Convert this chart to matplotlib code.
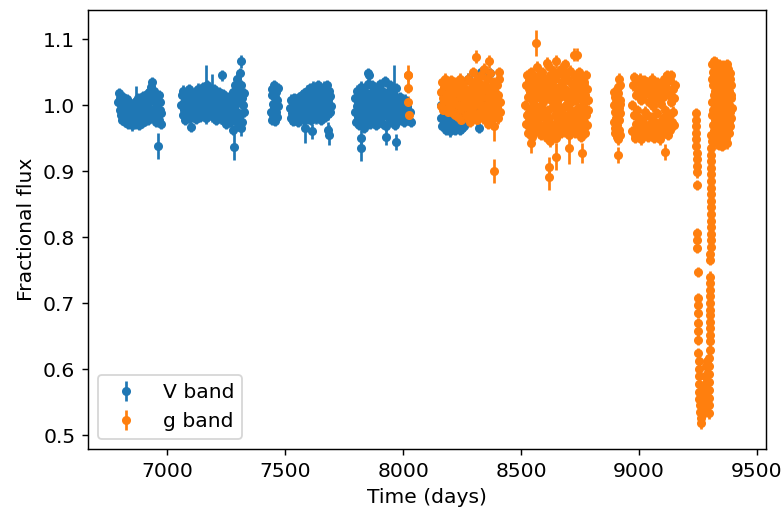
import matplotlib
matplotlib.use("Agg")
import matplotlib.pyplot as plt
import numpy as np

plt.rcParams["font.size"] = 11.2

# Typical photometric uncertainty per band (fractional flux)
V_ERR = 0.008
G_ERR = 0.008

# ---- V band: (time [days], fractional flux) per observing season ----
V_S1 = [
    (6793, 1.005), (6795, 1.018), (6798, 0.992), (6801, 1.010), (6803, 0.985), (6806, 1.002),
    (6809, 0.978), (6811, 1.012), (6814, 0.995), (6817, 0.982), (6820, 1.006), (6822, 0.975),
    (6825, 0.998), (6828, 0.988), (6830, 1.009), (6833, 0.972), (6836, 0.993), (6839, 0.981),
    (6841, 1.003), (6844, 0.977), (6847, 0.996), (6849, 0.969), (6852, 0.987), (6855, 1.001),
    (6858, 0.979), (6860, 0.994), (6863, 0.971), (6866, 1.006), (6868, 0.985), (6871, 0.998),
    (6874, 0.975), (6877, 1.010), (6879, 0.989), (6882, 0.970), (6885, 0.996), (6888, 0.982),
    (6890, 1.004), (6893, 0.973), (6896, 0.992), (6898, 1.013), (6901, 0.980), (6904, 0.999),
    (6907, 0.976), (6909, 1.008), (6912, 0.987), (6915, 1.016), (6918, 0.978), (6920, 0.997),
    (6923, 1.020), (6926, 0.985), (6928, 1.006), (6931, 1.028), (6934, 0.990), (6936, 1.035),
    (6939, 1.012), (6942, 0.982), (6944, 1.022), (6947, 0.995), (6950, 1.008), (6953, 0.975),
    (6957, 1.000), (6960, 0.984), (6963, 1.015), (6966, 0.978), (6969, 0.993), (6971, 1.004),
    (6973, 0.972), (6975, 0.988),
]
V_S2 = [
    (7060, 1.000), (7063, 1.015), (7066, 0.985), (7068, 1.022), (7071, 0.992), (7074, 1.008),
    (7077, 0.978), (7079, 1.018), (7082, 0.996), (7085, 0.984), (7088, 1.012), (7090, 0.990),
    (7093, 1.024), (7096, 0.980), (7099, 1.003), (7101, 0.967), (7104, 0.993), (7107, 1.015),
    (7110, 0.998), (7112, 1.010), (7115, 0.986), (7118, 1.020), (7121, 0.995), (7123, 0.979),
    (7126, 1.006), (7129, 1.025), (7132, 0.988), (7134, 1.012), (7137, 0.998), (7140, 0.982),
    (7143, 1.018), (7145, 1.002), (7148, 0.990), (7151, 1.027), (7154, 0.985), (7156, 1.010),
    (7159, 0.996), (7162, 1.020), (7165, 0.980), (7167, 1.005), (7170, 1.030), (7173, 0.992),
    (7176, 1.014), (7178, 0.986), (7181, 1.022), (7184, 0.998), (7187, 1.008), (7189, 0.983),
    (7192, 1.018), (7195, 0.995), (7198, 1.024), (7200, 0.988), (7203, 1.006), (7206, 0.978),
    (7209, 1.015), (7211, 0.994), (7214, 1.002), (7217, 0.984), (7220, 1.020), (7222, 0.990),
    (7225, 1.010), (7228, 0.980), (7233, 0.998), (7236, 1.016), (7239, 0.976), (7242, 1.004),
    (7244, 0.988), (7247, 1.012), (7250, 0.972), (7253, 0.996), (7255, 1.008), (7258, 0.982),
    (7261, 0.998), (7264, 1.014), (7266, 0.975), (7269, 0.992), (7272, 1.006), (7275, 0.985),
    (7277, 1.020), (7280, 0.962), (7283, 0.998), (7286, 1.030), (7288, 0.978), (7291, 1.012),
    (7294, 0.990), (7297, 1.040), (7299, 0.968), (7302, 1.022), (7305, 1.005), (7308, 1.048),
    (7310, 0.985), (7313, 1.030), (7316, 1.010), (7318, 0.975), (7321, 1.000), (7324, 1.018),
    (7326, 0.990),
]
V_S3 = [
    (7440, 0.990), (7442, 1.015), (7444, 0.978), (7446, 1.025), (7448, 1.002), (7450, 0.985),
    (7452, 1.030), (7454, 0.995), (7456, 1.012), (7458, 0.976), (7460, 1.020), (7462, 0.990),
    (7464, 1.008), (7466, 0.982), (7468, 1.026), (7470, 0.998),
    (7520, 0.995), (7523, 0.980), (7525, 1.008), (7528, 0.988), (7531, 0.976), (7533, 1.002),
    (7536, 0.984), (7539, 1.010), (7541, 0.992), (7544, 0.978), (7547, 1.005), (7549, 0.986),
    (7552, 0.998), (7555, 0.975), (7557, 1.012), (7560, 0.990), (7563, 0.980), (7565, 1.006),
    (7568, 0.995), (7571, 1.015), (7573, 0.982), (7576, 1.000), (7579, 0.978), (7581, 1.018),
    (7584, 0.992), (7587, 1.008), (7589, 0.985), (7592, 1.022), (7595, 0.996), (7597, 0.980),
    (7600, 1.012), (7603, 1.026), (7605, 0.988), (7608, 1.004), (7611, 0.978), (7613, 1.016),
    (7616, 0.994), (7619, 1.028), (7621, 0.984), (7624, 1.010), (7627, 0.998), (7629, 1.022),
    (7632, 0.980), (7635, 1.006), (7637, 0.990), (7640, 1.030), (7643, 1.014), (7645, 0.985),
    (7648, 1.002), (7651, 1.024), (7653, 0.978), (7656, 0.996), (7659, 1.012), (7661, 0.988),
    (7664, 1.028), (7667, 1.004), (7669, 0.982), (7672, 1.018), (7675, 0.994), (7677, 1.030),
    (7680, 0.986), (7683, 1.008), (7685, 1.022), (7688, 0.990), (7691, 1.014), (7694, 0.998),
]
V_S4 = [
    (7795, 0.990), (7797, 1.010), (7800, 0.975), (7803, 1.022), (7805, 0.998), (7808, 0.982),
    (7811, 1.015), (7813, 0.970), (7816, 1.005), (7819, 0.988), (7821, 1.028), (7824, 0.978),
    (7827, 0.996), (7829, 1.012), (7832, 0.965), (7835, 1.002), (7837, 0.985), (7840, 1.020),
    (7843, 0.975), (7845, 1.008), (7848, 0.992), (7851, 1.032), (7853, 0.982), (7856, 1.045),
    (7859, 1.000), (7861, 0.972), (7864, 1.018), (7867, 0.990), (7869, 1.030), (7872, 0.980),
    (7875, 1.010), (7877, 0.995), (7880, 1.025), (7883, 0.970), (7885, 1.004), (7888, 0.986),
    (7891, 1.020), (7893, 0.978), (7896, 1.012), (7899, 0.995), (7901, 1.032), (7904, 0.982),
    (7907, 1.006), (7909, 0.990), (7912, 1.022), (7915, 0.972), (7917, 1.000), (7920, 1.015),
    (7923, 0.985), (7925, 1.036), (7928, 0.968), (7931, 1.008), (7933, 0.992), (7936, 1.020),
    (7939, 0.980), (7941, 1.002), (7944, 1.030), (7947, 0.988), (7949, 1.012), (7952, 0.975),
    (7955, 0.998), (7957, 1.018), (7960, 0.984), (7963, 1.006), (7965, 0.970), (7968, 0.994),
    (7971, 1.026), (7973, 0.982), (7976, 1.010), (7979, 0.990), (7981, 1.000), (7984, 0.978),
    (7987, 1.012), (7990, 0.985), (7993, 0.995), (7996, 1.004), (8000, 0.990), (8004, 0.975),
    (8008, 1.008), (8012, 0.985), (8018, 0.998), (8025, 0.978), (8030, 0.990), (8034, 0.975),
]
V_S5 = [
    (8159, 1.000), (8161, 0.980), (8164, 1.020), (8166, 0.968), (8169, 0.995), (8172, 1.010),
    (8174, 0.975), (8177, 1.028), (8180, 0.990), (8182, 0.962), (8185, 1.005), (8188, 0.985),
    (8190, 1.018), (8193, 0.970), (8196, 0.998), (8198, 0.960), (8201, 1.012), (8204, 0.980),
    (8206, 0.965), (8209, 1.000), (8212, 0.975), (8214, 1.015), (8217, 0.988), (8220, 0.962),
    (8222, 0.995), (8225, 0.972), (8230, 1.008), (8235, 0.985), (8240, 0.962), (8245, 0.978),
    (8250, 0.965), (8257, 0.968), (8260, 0.990), (8275, 1.040), (8300, 0.995), (8322, 0.965),
    (8330, 1.050), (8345, 1.010), (8368, 1.048),
]
# Points with their own (larger) uncertainty: (time, flux, error)
V_WIDE = [
    (6866, 1.004, 0.025), (6960, 0.938, 0.020),
    (7231, 1.045, 0.008), (7311, 1.066, 0.010), (7281, 0.937, 0.020), (7313, 0.965, 0.012),
    (7163, 1.020, 0.040), (7190, 1.012, 0.035),
    (7582, 0.965, 0.022), (7612, 0.960, 0.012), (7683, 0.962, 0.012), (7684, 0.955, 0.015),
    (7821, 0.935, 0.020), (7822, 0.950, 0.012), (7927, 0.952, 0.012), (7969, 0.944, 0.012),
    (7959, 1.025, 0.035), (7849, 1.048, 0.008),
]

# ---- g band ----
G_S4 = [(8020, 1.045), (8022, 1.026), (8021, 1.005), (8023, 0.985)]
G_S5 = [
    (8160, 1.020), (8162, 0.998), (8165, 1.035), (8167, 1.010), (8170, 0.992), (8172, 1.028),
    (8175, 1.004), (8177, 1.040), (8180, 0.995), (8183, 1.018), (8185, 1.006), (8188, 1.032),
    (8190, 0.990), (8193, 1.012), (8195, 1.025), (8198, 1.000), (8201, 1.038), (8203, 0.994),
    (8206, 1.015), (8208, 1.030), (8211, 1.005), (8213, 0.988), (8216, 1.022), (8219, 1.008),
    (8221, 0.985), (8224, 1.035), (8226, 1.000), (8229, 1.018), (8231, 0.982), (8234, 1.028),
    (8237, 1.010), (8239, 0.992), (8242, 1.040), (8244, 1.002), (8247, 0.978), (8249, 1.020),
    (8252, 0.995), (8255, 1.032), (8257, 1.008), (8260, 0.985), (8262, 1.025), (8265, 0.998),
    (8267, 1.015), (8270, 0.980), (8273, 1.040), (8275, 1.005), (8278, 0.990), (8280, 1.022),
    (8283, 0.975), (8285, 1.010), (8288, 1.035), (8291, 0.995), (8293, 1.018), (8296, 0.982),
    (8298, 1.050), (8301, 1.000), (8303, 1.028), (8306, 0.988), (8309, 1.012), (8311, 0.978),
    (8314, 1.040), (8316, 1.002), (8319, 1.020), (8322, 0.985), (8324, 1.032), (8327, 1.008),
    (8329, 0.992), (8332, 1.045), (8334, 1.015), (8337, 0.980), (8340, 1.025), (8342, 1.055),
    (8345, 0.998), (8347, 1.030), (8350, 0.985), (8352, 1.012), (8355, 1.040), (8358, 0.972),
    (8360, 1.005), (8363, 1.022), (8365, 0.990), (8368, 1.048), (8370, 1.010), (8373, 0.978),
    (8376, 1.028), (8378, 0.995), (8381, 1.035), (8383, 1.002), (8386, 0.985), (8388, 1.018),
    (8391, 0.992), (8394, 1.008), (8396, 1.030), (8399, 0.998), (8401, 0.980), (8404, 1.015),
    (8406, 1.040), (8409, 0.990), (8412, 1.005),
]
G_S6 = [
    (8518, 1.000), (8520, 0.972), (8522, 1.030), (8524, 0.985), (8526, 1.045), (8528, 0.958),
    (8530, 1.012), (8532, 0.990), (8534, 1.038), (8536, 0.965), (8538, 1.020), (8540, 0.978),
    (8542, 1.050), (8544, 0.995), (8546, 0.952), (8548, 1.028), (8550, 1.005), (8552, 0.970),
    (8554, 1.042), (8556, 0.985), (8558, 1.015), (8560, 0.960), (8562, 1.035), (8564, 0.998),
    (8566, 1.058), (8568, 0.975), (8570, 1.022), (8572, 0.990), (8574, 1.045), (8576, 0.962),
    (8578, 1.010), (8580, 0.982), (8582, 1.032), (8584, 0.955), (8586, 1.018), (8588, 0.995),
    (8590, 1.050), (8592, 0.968), (8594, 1.005), (8596, 0.985), (8598, 1.040), (8600, 0.958),
    (8602, 1.025), (8604, 0.975), (8606, 1.012), (8608, 0.950), (8610, 1.035), (8612, 0.992),
    (8614, 1.060), (8616, 0.965), (8618, 1.020), (8620, 0.980), (8622, 1.045), (8624, 0.945),
    (8626, 1.008), (8628, 0.972), (8630, 1.030), (8632, 0.955), (8634, 0.998), (8636, 1.052),
    (8638, 0.962), (8640, 1.015), (8642, 0.985), (8644, 1.040), (8646, 0.950), (8648, 1.022),
    (8650, 0.975), (8652, 1.005), (8654, 0.960), (8656, 1.048), (8658, 0.990), (8660, 1.028),
    (8662, 0.968), (8664, 1.012), (8666, 0.982), (8668, 1.055), (8670, 0.958), (8672, 1.035),
    (8674, 0.995), (8676, 1.018), (8678, 0.972), (8680, 1.042), (8682, 0.985), (8684, 1.062),
    (8686, 0.960), (8688, 1.025), (8690, 1.000), (8692, 1.048), (8694, 0.965), (8696, 1.010),
    (8698, 0.978), (8700, 1.038), (8702, 0.955), (8704, 1.020), (8706, 0.992), (8708, 1.052),
    (8710, 0.970), (8712, 1.005), (8714, 0.985), (8716, 1.032), (8718, 0.962), (8720, 1.015),
    (8722, 0.975), (8724, 1.045), (8726, 0.990), (8728, 1.025), (8730, 0.958), (8732, 1.008),
    (8734, 0.982), (8736, 1.040), (8738, 0.968), (8740, 1.018), (8742, 0.995), (8744, 1.050),
    (8746, 0.960), (8748, 1.030), (8750, 0.978), (8752, 1.010), (8754, 0.952), (8756, 1.042),
    (8758, 0.988), (8760, 1.022), (8762, 0.965), (8764, 1.000), (8766, 0.975), (8768, 1.035),
    (8770, 0.958), (8772, 1.015), (8774, 0.985), (8776, 1.045), (8778, 0.970), (8780, 1.025),
    (8782, 0.992), (8784, 1.008),
]
G_S7 = [
    (8893, 1.000), (8894, 0.975), (8895, 1.020), (8896, 0.958), (8897, 1.012), (8899, 0.990),
    (8900, 0.965), (8901, 1.005), (8902, 0.980), (8904, 1.015), (8905, 0.952), (8906, 0.995),
    (8907, 0.970), (8909, 1.028), (8910, 0.985), (8911, 0.948), (8912, 1.018), (8913, 0.995),
    (8914, 0.962), (8915, 1.040), (8916, 0.978), (8917, 1.008), (8918, 0.955), (8919, 1.030),
    (8920, 0.988), (8921, 1.002),
]
G_S8 = [
    (8970, 1.000), (8972, 0.960), (8975, 1.030), (8977, 0.985), (8980, 1.042), (8982, 0.950),
    (8985, 1.015), (8987, 0.972), (8990, 1.038), (8992, 0.992), (8995, 0.958), (8997, 1.022),
    (9000, 0.980), (9002, 1.040), (9005, 0.965), (9007, 1.008), (9010, 0.948), (9012, 1.030),
    (9015, 0.975), (9017, 1.012), (9020, 0.955), (9022, 1.038), (9025, 0.990), (9027, 0.962),
    (9030, 1.020), (9032, 0.985), (9035, 1.035), (9037, 0.952), (9040, 1.005), (9042, 0.970),
    (9045, 1.028), (9047, 0.958), (9050, 1.015), (9052, 0.982), (9055, 1.040), (9057, 0.965),
    (9060, 0.998), (9062, 0.950), (9065, 1.025), (9067, 0.975), (9070, 1.010), (9072, 0.960),
    (9075, 1.035), (9077, 0.988), (9080, 0.955), (9082, 1.018), (9085, 0.972), (9087, 1.030),
    (9090, 0.948), (9092, 1.002), (9095, 0.965), (9097, 1.022), (9100, 0.980), (9102, 1.012),
    (9105, 0.958), (9107, 1.040), (9110, 0.992), (9112, 0.968), (9115, 1.028), (9117, 0.978),
    (9120, 1.045), (9122, 0.955), (9125, 1.015), (9127, 0.985), (9130, 1.038), (9132, 0.962),
    (9135, 1.005), (9137, 1.045), (9140, 0.975), (9142, 1.025), (9145, 0.990), (9147, 1.010),
    (9150, 0.970), (9152, 1.030),
]
# the dimming event: ingress, minimum and egress
G_DIP = [
    (9241, 0.988), (9241, 0.978), (9242, 0.968), (9242, 0.958), (9243, 0.948), (9243, 0.938),
    (9244, 0.928), (9244, 0.918), (9245, 0.908), (9245, 0.898), (9246, 0.879), (9246, 0.806),
    (9247, 0.795), (9247, 0.784), (9248, 0.747), (9248, 0.708), (9249, 0.697), (9249, 0.685),
    (9250, 0.670), (9250, 0.657), (9251, 0.644), (9251, 0.624), (9252, 0.612), (9252, 0.600),
    (9253, 0.590), (9254, 0.578), (9255, 0.566), (9256, 0.555), (9258, 0.545), (9260, 0.535),
    (9262, 0.526), (9264, 0.518),
    (9266, 0.530), (9268, 0.548), (9270, 0.562), (9272, 0.540), (9274, 0.575), (9276, 0.552),
    (9278, 0.590), (9280, 0.565), (9282, 0.605), (9284, 0.545), (9286, 0.582), (9288, 0.612),
    (9290, 0.560),
    (9295, 0.533), (9296, 0.545), (9296, 0.557), (9297, 0.569), (9297, 0.581), (9298, 0.593),
    (9298, 0.605), (9298, 0.617), (9299, 0.629), (9299, 0.642), (9300, 0.652), (9300, 0.662),
    (9300, 0.672), (9300, 0.682), (9301, 0.690), (9301, 0.700), (9301, 0.710), (9301, 0.720),
    (9302, 0.730), (9302, 0.740), (9302, 0.765), (9302, 0.775), (9303, 0.785), (9303, 0.795),
    (9303, 0.805), (9303, 0.815), (9304, 0.825), (9304, 0.835), (9304, 0.845), (9304, 0.855),
    (9305, 0.865), (9305, 0.875), (9305, 0.885), (9305, 0.895), (9306, 0.905), (9306, 0.915),
    (9306, 0.925), (9306, 0.935),
]
G_S10 = [
    (9306, 0.955), (9307, 1.040), (9308, 0.985), (9309, 1.062), (9310, 0.945), (9311, 1.005),
    (9312, 1.030), (9313, 0.970), (9314, 1.050), (9315, 0.992), (9316, 1.066), (9317, 0.960),
    (9318, 1.015), (9319, 1.045), (9320, 0.978), (9321, 1.058), (9322, 0.950), (9323, 1.022),
    (9324, 0.998), (9325, 1.064), (9326, 0.965), (9327, 1.035), (9328, 0.985), (9329, 1.052),
    (9330, 0.942), (9331, 1.010), (9332, 1.060), (9333, 0.972), (9334, 1.028), (9335, 0.958),
    (9336, 1.045), (9337, 0.995), (9338, 1.062), (9339, 0.940), (9340, 1.018), (9341, 0.980),
    (9342, 1.055), (9343, 0.962), (9344, 1.038), (9345, 1.002), (9346, 0.948), (9347, 1.058),
    (9348, 0.988), (9349, 1.025), (9350, 0.968), (9351, 1.048), (9352, 0.938), (9353, 1.012),
    (9354, 1.060), (9355, 0.975), (9356, 1.032), (9357, 0.955), (9358, 1.052), (9359, 0.995),
    (9360, 1.020), (9361, 0.945), (9362, 1.058), (9363, 0.982), (9364, 1.040), (9365, 0.965),
    (9366, 1.008), (9367, 1.050), (9368, 0.950), (9369, 1.028), (9370, 0.990), (9371, 1.062),
    (9372, 0.970), (9373, 1.015), (9374, 0.942), (9375, 1.045), (9376, 0.985), (9377, 1.035),
    (9378, 0.960), (9379, 1.055), (9380, 1.000), (9381, 0.975), (9382, 1.022), (9383, 0.958),
    (9384, 1.040), (9385, 0.990), (9386, 1.048), (9387, 0.968), (9388, 1.010), (9389, 1.030),
    (9390, 0.980), (9391, 1.015), (9392, 0.995),
]
G_WIDE = [
    (8020, 1.045, 0.015),
    (8307, 1.073, 0.010), (8364, 1.066, 0.010), (8406, 1.050, 0.008),
    (8385, 0.900, 0.018), (8385, 0.968, 0.022),
    (8561, 1.094, 0.020), (8610, 1.063, 0.010), (8646, 1.066, 0.010), (8723, 1.076, 0.010),
    (8737, 1.076, 0.010), (8540, 0.942, 0.015), (8620, 0.906, 0.015), (8620, 0.891, 0.020),
    (8646, 0.922, 0.020), (8705, 0.935, 0.025), (8758, 0.927, 0.015),
    (8912, 0.924, 0.012), (9111, 0.929, 0.012),
]


def stack(seasons, default_err, wide):
    pts = [(t, f, default_err) for s in seasons for (t, f) in s] + list(wide)
    arr = np.array(pts, dtype=float)
    return arr[:, 0], arr[:, 1], arr[:, 2]


v_t, v_f, v_e = stack([V_S1, V_S2, V_S3, V_S4, V_S5], V_ERR, V_WIDE)
g_t, g_f, g_e = stack([G_S4, G_S5, G_S6, G_S7, G_S8, G_DIP, G_S10], G_ERR, G_WIDE)

fig = plt.figure(figsize=(782 / 130, 513 / 130), dpi=130)
ax = fig.add_axes([88 / 782, 1 - 449 / 513, (766 - 88) / 782, (449 - 9.5) / 513])

ax.errorbar(v_t, v_f, yerr=v_e, fmt="o", markersize=4, label="V band")
ax.errorbar(g_t, g_f, yerr=g_e, fmt="o", markersize=4, label="g band")

ax.set_xlim(6664, 9538)
ax.set_ylim(0.479, 1.1447)
ax.set_xlabel("Time (days)")
ax.set_ylabel("Fractional flux")
ax.legend(loc="lower left")

fig.savefig("out.png", dpi=130)
